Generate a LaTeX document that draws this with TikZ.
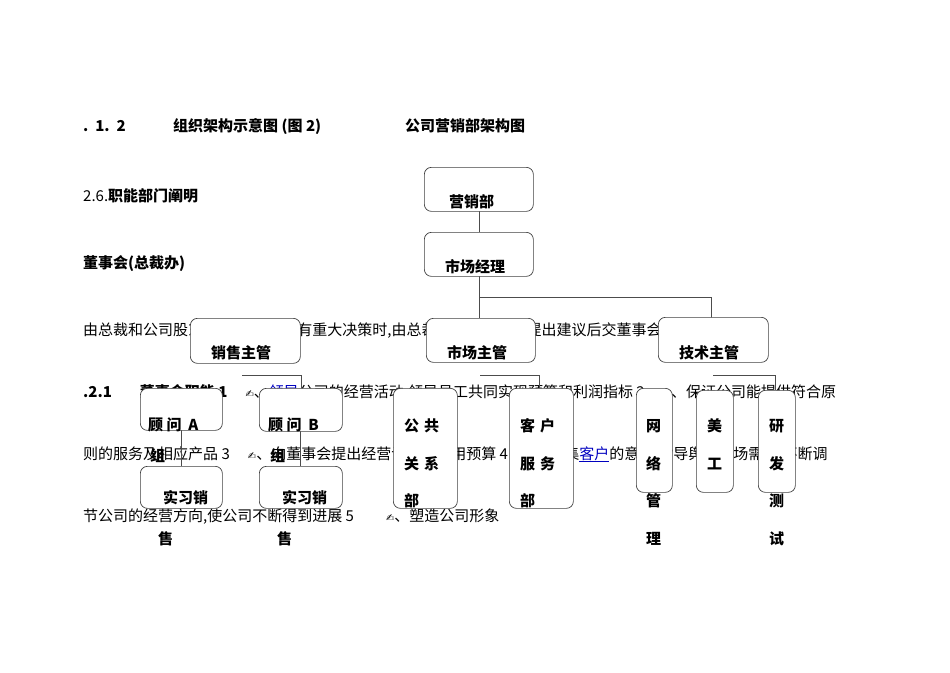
\documentclass[tikz,border=0pt]{standalone}
\usepackage{fontspec}
\setmainfont{Noto Sans CJK SC}
\newfontfamily\symfont{DejaVu Sans}
\usepackage{tikz}
\usetikzlibrary{positioning}
\newcommand{\bell}{\hspace{18pt}{\symfont\normalsize ✍}}
\newcommand{\lnk}[1]{\textcolor{blue!75!black}{\underline{#1}}}
\begin{document}
\begin{tikzpicture}[
            x=1pt, y=-1pt,
            font=\fontsize{15}{18}\selectfont,
            txt/.style={anchor=base west, inner sep=0pt},
            bx/.style={draw=black!75, fill=white, rounded corners=7pt, line width=0.7pt, anchor=north west, inner sep=0pt},
            lbl/.style={anchor=base west, inner sep=0pt, font=\fontsize{15}{18}\selectfont\bfseries},
            conn/.style={draw=black!70, line width=0.7pt},
            ]
            \useasboundingbox (0,0) rectangle (950,672);
            % page text behind the chart
            \node[txt] (h1) at (83,131) {\textbf{.\ \ 1.\ \ 2}};
            \node[txt] (h2) at (173,131) {\textbf{组织架构示意图 (图 2)}};
            \node[txt] (h3) at (405,131) {\textbf{公司营销部架构图}};
            \node[txt] (h4) at (83,201) {2.6.\textbf{职能部门阐明}};
            \node[txt] (h5) at (83,268) {\textbf{董事会(总裁办)}};
            \node[txt] (p1) at (83,335) {由总裁和公司股东大会组成,公司有重大决策时,由总裁或董事会多数提出建议后交董事会表决。};
            \node[txt] (p2) at (83,397) {\textbf{.2.1}\hspace{28pt}\textbf{董事会职能 1}\bell、\lnk{领导}公司的经营活动,领导员工共同实现预算和利润指标 2\bell、保证公司能提供符合原};
            \node[txt] (p3) at (83,459) {则的服务及相应产品 3\bell、向董事会提出经营计划和费用预算 4\bell、收集\lnk{客户}的意见,指导舆论市场需求,不断调};
            \node[txt] (p4) at (83,521) {节公司的经营方向,使公司不断得到进展 5\hspace{14pt}\bell、塑造公司形象};

            % connectors
            \coordinate (s1) at (242,375);
            \draw[conn] (479,211) -- (479,232);
            \draw[conn] (479,276) -- (479,297) -- (711,297) -- (711,318);
            \draw[conn] (479,297) -- (479,318);
            \draw[conn] (s1) -- (301,375) -- (301,390);
            \draw[conn] (480,375) -- (539,375) -- (539,390);
            \draw[conn] (713,375) -- (775,375) -- (775,390);
            \draw[conn] (181,430) -- (181,466);
            \draw[conn] (300,430) -- (300,466);

            % boxes
            \node[bx, minimum width=109pt, minimum height=44pt] (dept)  at (424,167) {};
            \node[bx, minimum width=109pt, minimum height=44pt] (mgr)   at (424,232) {};
            \node[bx, minimum width=110pt, minimum height=45pt] (sales) at (190,318) {};
            \node[bx, minimum width=109pt, minimum height=44pt] (mkt)   at (426,318) {};
            \node[bx, minimum width=110pt, minimum height=45pt] (tech)  at (658,317) {};
            \node[bx, minimum width=82pt,  minimum height=42pt] (cA)    at (140,388) {};
            \node[bx, minimum width=83pt,  minimum height=43pt] (cB)    at (259,388) {};
            \node[bx, minimum width=82pt,  minimum height=42pt] (iA)    at (140,466) {};
            \node[bx, minimum width=83pt,  minimum height=42pt] (iB)    at (259,466) {};
            \node[bx, minimum width=64pt,  minimum height=120pt] (pr)   at (393,388) {};
            \node[bx, minimum width=64pt,  minimum height=120pt] (cs)   at (509,388) {};
            \node[bx, minimum width=36pt,  minimum height=104pt] (net)  at (636,388) {};
            \node[bx, minimum width=37pt,  minimum height=102pt] (art)  at (696,390) {};
            \node[bx, minimum width=37pt,  minimum height=102pt] (rd)   at (758,390) {};

            % box texts
            \node[lbl] at (449,207) {营销部};
            \node[lbl] at (445,272) {市场经理};
            \node[lbl] at (211,358) {销售主管};
            \node[lbl] at (447,358) {市场主管};
            \node[lbl] at (679,358) {技术主管};
            \node[lbl] at (148,430) {顾 问\ \ A};
            \node[lbl] at (150,461) {组};
            \node[lbl] at (268,430) {顾 问\ \ B};
            \node[lbl] at (270,461) {组};
            \node[lbl] at (163,503) {实习销};
            \node[lbl] at (158,544) {售};
            \node[lbl] at (282,503) {实习销};
            \node[lbl] at (277,544) {售};
            \foreach \t/\x/\y in {公\,\,共/404/431, 关\,\,系/404/469, 部/404/506,
                                  客\,\,户/520/431, 服\,\,务/520/469, 部/520/506,
                                  网/646/431, 络/646/469, 管/646/506, 理/646/544,
                                  美/707/431, 工/707/469,
                                  研/769/431, 发/769/469, 测/769/506, 试/769/544}
                \node[lbl] at (\x,\y) {\t};
        \end{tikzpicture}
\end{document}
